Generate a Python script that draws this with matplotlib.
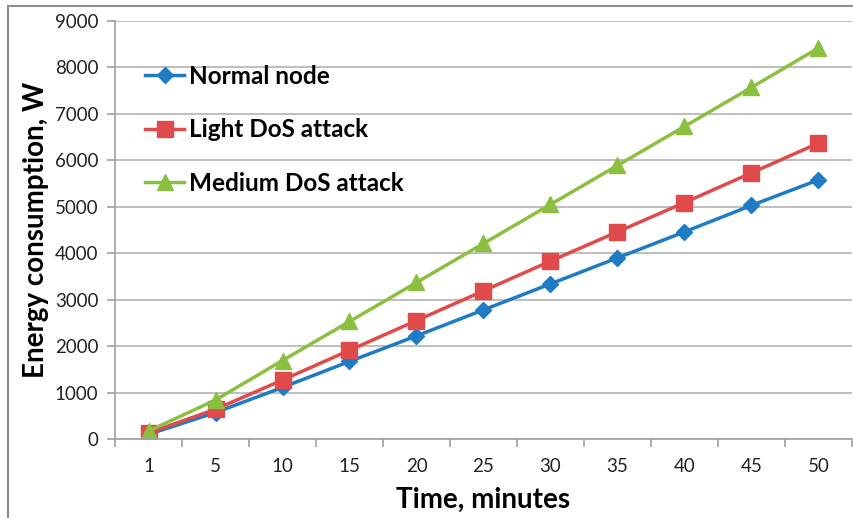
import matplotlib
matplotlib.use("Agg")
import matplotlib.pyplot as plt
from matplotlib.lines import Line2D
import numpy as np

# === DATA ===
time_labels = ["1", "5", "10", "15", "20", "25", "30", "35", "40", "45", "50"]
normal_node = [100, 570, 1110, 1670, 2220, 2780, 3340, 3900, 4460, 5030, 5580]
light_dos = [130, 640, 1270, 1910, 2550, 3190, 3830, 4460, 5090, 5730, 6370]
medium_dos = [170, 840, 1690, 2530, 3370, 4210, 5050, 5890, 6730, 7570, 8420]

plt.rcParams["font.family"] = ["Lato", "DejaVu Sans"]

fig = plt.figure(figsize=(8.54, 5.18), dpi=100)
ax = fig.add_axes([115 / 854, 1 - 439 / 518, 737 / 854, 418 / 518])

x = np.arange(len(time_labels))
ax.plot(x, normal_node, color="#1f7bc4", lw=2.5, marker="D", ms=8, label="Normal node")
ax.plot(x, light_dos, color="#e04a4a", lw=2.5, marker="s", ms=11, label="Light DoS attack")
ax.plot(x, medium_dos, color="#8bbf3f", lw=2.5, marker="^", ms=12, label="Medium DoS attack")

# axes / grid
ax.set_xlim(-0.5, len(time_labels) - 0.5)
ax.set_ylim(0, 9000)
ax.set_yticks(np.arange(0, 9001, 1000))
ax.yaxis.grid(True, color="#b3b3b3", lw=1.2)
ax.set_axisbelow(True)
ax.set_xticks(x)
ax.set_xticklabels(time_labels)
ax.set_xticks(np.arange(-0.5, len(time_labels)), minor=True)
ax.tick_params(axis="x", which="major", length=0, pad=14, labelsize=13.5, colors="#222222")
ax.tick_params(axis="x", which="minor", length=6, width=1.2, color="#a0a0a0")
ax.tick_params(axis="y", length=6, width=1.2, color="#a0a0a0", labelsize=13.5, labelcolor="#222222", pad=6)
for side in ["top", "right"]:
    ax.spines[side].set_visible(False)
for side in ["left", "bottom"]:
    ax.spines[side].set_color("#a0a0a0")
    ax.spines[side].set_linewidth(1.2)

ax.set_xlabel("Time, minutes", fontsize=20, fontweight="bold", labelpad=8)
ax.set_ylabel("Energy consumption, W", fontsize=20, fontweight="bold", labelpad=4)

leg = ax.legend(loc="upper left", bbox_to_anchor=(0.041, 0.895), frameon=False,
                prop={"size": 17.5, "weight": "bold"}, labelspacing=1.25,
                handlelength=1.6, handletextpad=0.2, borderaxespad=0, borderpad=0)

# outer frame (left and top edges visible)
fig.add_artist(Line2D([8 / 854, 8 / 854], [0, 1 - 6 / 518], color="#8c8c8c", lw=1.5))
fig.add_artist(Line2D([8 / 854, 1], [1 - 6 / 518, 1 - 6 / 518], color="#8c8c8c", lw=1.5))

fig.savefig("out.png", dpi=100)
